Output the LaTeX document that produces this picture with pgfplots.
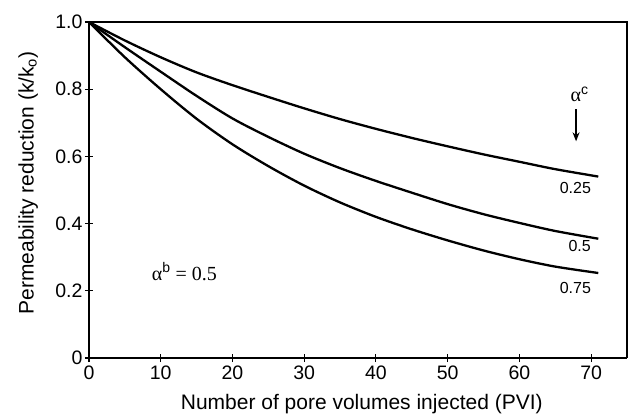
\documentclass[border=0pt]{standalone}
\usepackage{pgfplots}
\pgfplotsset{compat=1.18}
\usetikzlibrary{arrows.meta}
\usepackage{fontspec}
\setmainfont{Liberation Sans}
\newfontfamily\serifgr{Liberation Serif}
\begin{document}
\begin{tikzpicture}
\begin{axis}[
  scale only axis,
  width=538pt, height=336pt,
  xmin=0, xmax=75, ymin=0, ymax=1,
  axis x line*=bottom, axis y line*=left,
  xtick={0,10,20,30,40,50,60,70},
  xticklabels={0,10,20,30,40,50,60,70},
  ytick={0,0.2,0.4,0.6,0.8,1.0},
  yticklabels={0,0.2,0.4,0.6,0.8,1.0},
  tick align=center,
  major tick length=8pt,
  tick style={line width=1.1pt, black},
  axis line style={line width=1.2pt, -},
  ticklabel style={font=\fontsize{19.5}{21}\selectfont},
  yticklabel style={xshift=1pt},
  xlabel={Number of pore volumes injected (PVI)},
  ylabel={Permeability reduction (k/k$_\mathrm{o}$)},
  label style={font=\fontsize{21}{23}\selectfont},
  xlabel style={at={(axis description cs:0.507,-0.137)}, anchor=center},
  ylabel style={at={(axis description cs:-0.113,0.521)}, anchor=center},
  clip=false,
]
\draw[line width=1.2pt] (axis cs:0,1) -- (axis cs:75,1) -- (axis cs:75,0);
\addplot[black, line width=2.3pt, smooth] coordinates {
(0,1.0)(5,0.945)(10,0.895)(15,0.850)(20,0.812)(25,0.777)(30,0.743)(35,0.711)(40,0.682)(45,0.655)(50,0.630)(55,0.606)(60,0.584)(65,0.562)(71,0.540)};
\addplot[black, line width=2.3pt, smooth] coordinates {
(0,1.0)(5,0.925)(10,0.852)(15,0.780)(20,0.713)(25,0.658)(30,0.608)(35,0.565)(40,0.527)(45,0.492)(50,0.458)(55,0.428)(60,0.402)(65,0.378)(71,0.355)};
\addplot[black, line width=2.3pt, smooth] coordinates {
(0,1.0)(5,0.895)(10,0.800)(15,0.712)(20,0.636)(25,0.571)(30,0.513)(35,0.463)(40,0.420)(45,0.383)(50,0.350)(55,0.320)(60,0.294)(65,0.272)(71,0.253)};
\node[font=\fontsize{16}{18}\selectfont] at (axis cs:67.8,0.507) {0.25};
\node[font=\fontsize{16}{18}\selectfont] at (axis cs:68.4,0.332) {0.5};
\node[font=\fontsize{16}{18}\selectfont] at (axis cs:67.8,0.209) {0.75};
\node[font=\fontsize{20}{22}\selectfont] at (axis cs:13.3,0.257) {\serifgr α\textsuperscript{\normalfont\fontsize{14}{16}\selectfont b} = 0.5};
\node[font=\fontsize{20}{22}\selectfont] at (axis cs:68.4,0.785) {\serifgr α\textsuperscript{\normalfont\fontsize{14}{16}\selectfont c}};
\draw[-{Stealth[length=9pt,width=7pt]}, line width=1.2pt] (axis cs:67.9,0.74) -- (axis cs:67.9,0.645);
\end{axis}
\pgfresetboundingbox
\useasboundingbox (-89pt,-60pt) rectangle (544pt,358pt);
\end{tikzpicture}
\end{document}
